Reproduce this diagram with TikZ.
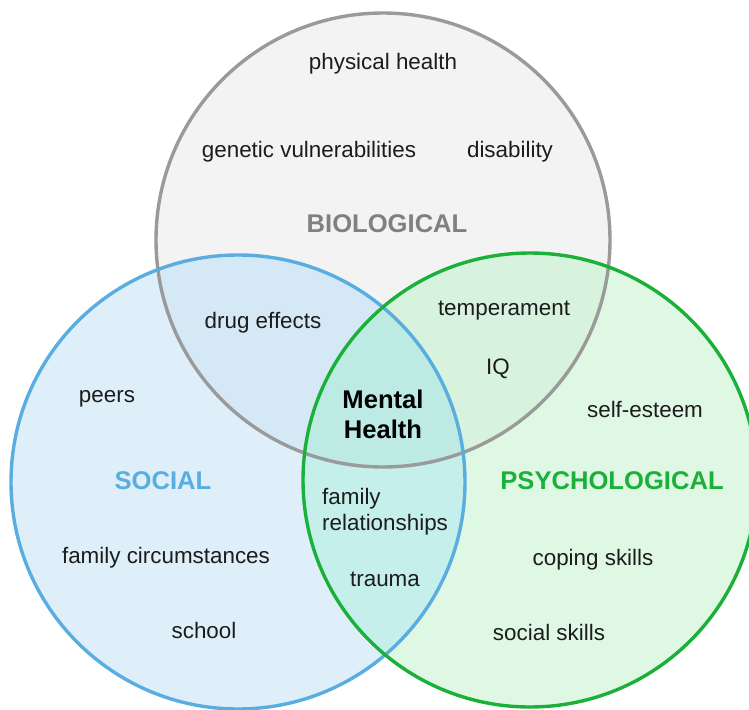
\documentclass[tikz,border=0pt]{standalone}
\usepackage{fontspec}
\setmainfont{Liberation Sans}
\begin{document}
\definecolor{bioLine}{HTML}{9A9A9A}
\definecolor{socLine}{HTML}{5AAEDF}
\definecolor{psyLine}{HTML}{1BB03A}
\definecolor{bioFill}{HTML}{F3F3F3}
\definecolor{socFill}{HTML}{DEEFFA}
\definecolor{psyFill}{HTML}{DFF8E3}
\definecolor{bsFill}{HTML}{D4E9F5}
\definecolor{bpFill}{HTML}{D7F3DD}
\definecolor{spFill}{HTML}{C5EFEA}
\definecolor{allFill}{HTML}{BDEBE3}
\definecolor{txt}{HTML}{1C1C1C}
\definecolor{bioTitle}{HTML}{808080}
\begin{tikzpicture}[x=1pt,y=-1pt,
  item/.style={text=txt,font=\fontsize{22.4}{26}\selectfont,inner sep=0pt,yshift=-2pt},
  title/.style={font=\fontsize{25.6}{30}\selectfont\bfseries,inner sep=0pt},
  ring/.style={line width=3.4pt}]
\useasboundingbox (0,0) rectangle (749,709);
\fill[white] (0,0) rectangle (749,709);
\coordinate (B) at (383,240);
\coordinate (S) at (238,482);
\coordinate (P) at (530,480);
% region fills
\fill[bioFill] (B) circle (227pt);
\fill[socFill] (S) circle (227pt);
\fill[psyFill] (P) circle (227pt);
\begin{scope}
  \clip (B) circle (227pt);
  \fill[bsFill] (S) circle (227pt);
  \fill[bpFill] (P) circle (227pt);
\end{scope}
\begin{scope}
  \clip (S) circle (227pt);
  \fill[spFill] (P) circle (227pt);
  \clip (B) circle (227pt);
  \fill[allFill] (P) circle (227pt);
\end{scope}
% outlines
\draw[ring,bioLine] (B) circle (227pt);
\draw[ring,socLine] (S) circle (227pt);
\draw[ring,psyLine] (P) circle (227pt);
% labels
\node[item] (physical) at (383,62) {physical health};
\node[item] (genetic) at (309,150) {genetic vulnerabilities};
\node[item] (disability) at (510,150) {disability};
\node[title,text=bioTitle] (biological) at (387,224) {BIOLOGICAL};
\node[item] (drug) at (263,321) {drug effects};
\node[item] (temper) at (504,309) {temperament};
\node[item] (iq) at (498,367) {IQ};
\node[item] (peers) at (107,397) {peers};
\node[item] (esteem) at (645,407) {self-esteem};
\node[title,text=black,align=center,font=\fontsize{25.6}{30}\selectfont\bfseries] (mental) at (383,414) {Mental\\Health};
\node[title,text=socLine] (social) at (163,481) {SOCIAL};
\node[title,text=psyLine] (psych) at (612,481) {PSYCHOLOGICAL};
\node[item,align=left,anchor=west,font=\fontsize{22.4}{26}\selectfont] (family) at (322,510) {family\\relationships};
\node[item] (circum) at (166,556) {family circumstances};
\node[item] (coping) at (593,558) {coping skills};
\node[item] (trauma) at (385,577) {trauma};
\node[item] (school) at (204,628) {school};
\node[item] (skills) at (549,630) {social skills};
\end{tikzpicture}
\end{document}
